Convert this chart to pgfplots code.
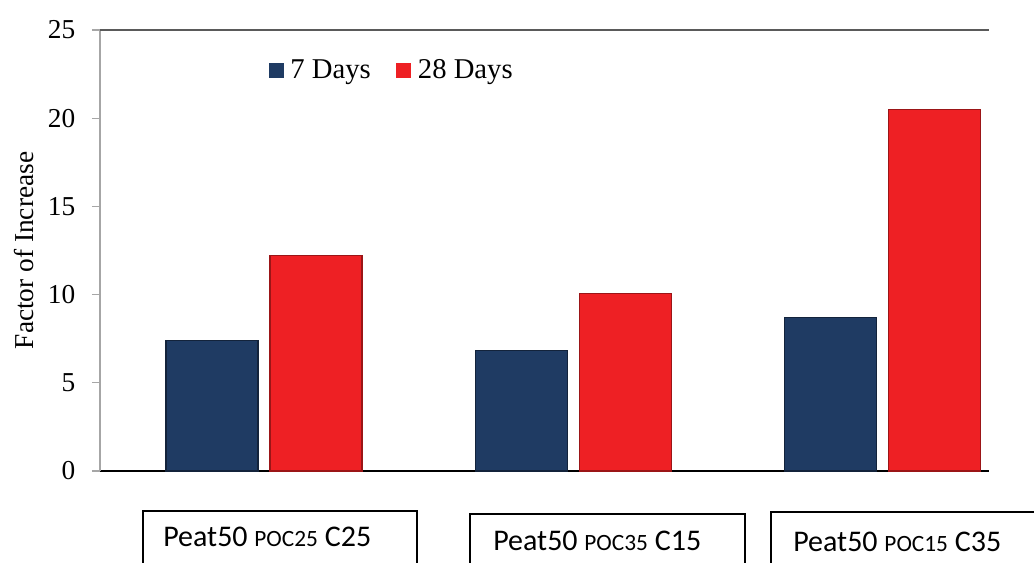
\documentclass[border=0pt]{standalone}
\usepackage{pgfplots}
\pgfplotsset{compat=1.18}
\usepackage{fontspec}
\setmainfont{Liberation Serif}
\newfontfamily\calibri{Carlito}
\definecolor{daysseven}{HTML}{1F3B63}
\definecolor{daystwentyeight}{HTML}{EE2024}
\definecolor{axisgray}{HTML}{A6A6A6}
\definecolor{topgray}{HTML}{5A5A5A}

\begin{document}
\begin{tikzpicture}[x=0.75pt,y=0.75pt]
\useasboundingbox (0,0) rectangle (1034,563);
\clip (0,0) rectangle (1034,563);
\begin{axis}[
  at={(75pt,69pt)}, anchor=south west,
  scale only axis, width=666.75pt, height=330.75pt,
  ymin=0, ymax=25, ytick={0,5,...,25},
  xmin=-0.5307, xmax=2.346, xtick=\empty,
  axis x line=bottom, axis y line=left,
  x axis line style={black, line width=1.1pt, -},
  y axis line style={axisgray, line width=0.8pt, -},
  y tick style={axisgray, line width=0.8pt},
  tick align=outside, major tick length=6pt,
  /pgf/number format/assume math mode=true,
  tick label style={font=\fontsize{20.5}{24}\selectfont},
  yticklabel style={xshift=-9pt},
  ylabel={Factor of Increase},
  every axis y label/.style={at={(axis description cs:-0.0855,0.5)}, rotate=90, anchor=center, font=\fontsize{20.5}{24}\selectfont},
  legend style={draw=none, fill=none, at={(axis description cs:0.185,0.909)}, anchor=west,
    legend columns=2, font=\fontsize{21.5}{25}\selectfont,
    /tikz/every even column/.append style={column sep=14pt},
    nodes={inner xsep=5pt, inner ysep=2pt}},
  clip=false,
]
\addplot[ybar, bar width=69pt, bar shift=-39pt, fill=daysseven, draw=daysseven!60!black, line width=0.8pt,
  legend image code/.code={\fill[daysseven] (0pt,-5.25pt) rectangle (10.5pt,5.25pt);}]
  coordinates {(0,7.4) (1,6.85) (2,8.7)};
\addlegendentry{7 Days}
\addplot[ybar, bar width=69pt, bar shift=39pt, fill=daystwentyeight, draw=daystwentyeight!65!black, line width=0.8pt,
  legend image code/.code={\fill[daystwentyeight] (0pt,-5.25pt) rectangle (10.5pt,5.25pt);}]
  coordinates {(0,12.2) (1,10.05) (2,20.5)};
\addlegendentry{28 Days}
\draw[topgray, line width=1.5pt] (rel axis cs:0,1) -- (rel axis cs:1,1);
\end{axis}
% boxed group labels under the axis
\draw[line width=1.5pt] (143,0) |- (417,52) -- (417,0);
\draw[line width=1.5pt] (470,0) |- (745,49) -- (745,0);
\draw[line width=1.5pt] (771,0) |- (1046,51) -- (1046,0);
\node[anchor=base west, inner sep=0pt, font=\calibri\fontsize{22.5}{27}\selectfont] at (163,16) {Peat50 {\fontsize{17.5}{21}\selectfont POC25} C25};
\node[anchor=base west, inner sep=0pt, font=\calibri\fontsize{22.5}{27}\selectfont] at (493,12) {Peat50 {\fontsize{17.5}{21}\selectfont POC35} C15};
\node[anchor=base west, inner sep=0pt, font=\calibri\fontsize{22.5}{27}\selectfont] at (793,11) {Peat50 {\fontsize{17.5}{21}\selectfont POC15} C35};
\end{tikzpicture}
\end{document}
